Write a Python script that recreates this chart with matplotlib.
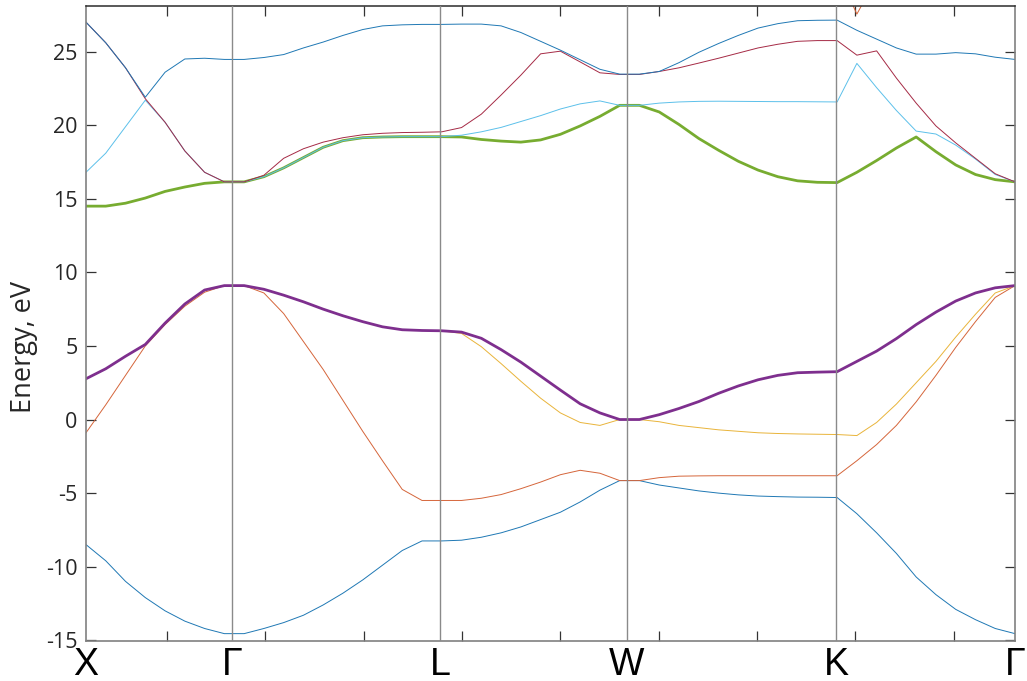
import numpy as np
import matplotlib
matplotlib.use("Agg")
import matplotlib.pyplot as plt

# k-path: uniform sampling along X-Γ-L-W-K-Γ (48 points)
n_k = 48
k = np.linspace(0.0, 9.4, n_k)

sym_labels = ["X", "Γ", "L", "W", "K", "Γ"]
sym_pos = [0.0, 1.48, 3.584, 5.473, 7.59, 9.4]
grid_ticks = [0.82, 1.815, 2.81, 3.805, 4.80, 5.795, 6.79, 7.785, 8.78]
yticks = [-15, -10, -5, 0, 5, 10, 15, 20, 25]

# band energies, eV
band1 = [-8.5, -9.6, -11.0, -12.1, -13.0, -13.7, -14.2, -14.55, -14.55, -14.2,
         -13.8, -13.3, -12.6, -11.8, -10.9, -9.9, -8.9, -8.25, -8.25, -8.2,
         -8.0, -7.7, -7.3, -6.8, -6.3, -5.6, -4.8, -4.15, -4.15, -4.45,
         -4.65, -4.85, -5.0, -5.12, -5.2, -5.24, -5.27, -5.28, -5.3, -6.4,
         -7.7, -9.1, -10.7, -11.9, -12.9, -13.6, -14.2, -14.55]
band2 = [-0.9, 1.0, 3.0, 5.0, 6.45, 7.7, 8.65, 9.1, 9.1, 8.6,
         7.2, 5.3, 3.4, 1.3, -0.8, -2.8, -4.75, -5.5, -5.5, -5.5,
         -5.35, -5.1, -4.7, -4.25, -3.75, -3.45, -3.65, -4.15, -4.15, -3.95,
         -3.85, -3.83, -3.82, -3.82, -3.82, -3.82, -3.82, -3.82, -3.82, -2.8,
         -1.7, -0.4, 1.2, 3.0, 4.9, 6.65, 8.3, 9.1]
band3 = [2.77, 3.45, 4.3, 5.1, 6.55, 7.85, 8.8, 9.1, 9.1, 8.85,
         8.45, 8.0, 7.5, 7.05, 6.65, 6.3, 6.1, 6.05, 6.03, 5.85,
         4.95, 3.8, 2.6, 1.45, 0.45, -0.2, -0.4, 0.0, 0.0, -0.15,
         -0.4, -0.55, -0.7, -0.8, -0.9, -0.95, -0.98, -1.0, -1.02, -1.09,
         -0.2, 1.05, 2.5, 3.95, 5.6, 7.15, 8.6, 9.1]
band4 = [2.77, 3.45, 4.3, 5.1, 6.55, 7.85, 8.8, 9.1, 9.1, 8.85,
         8.45, 8.0, 7.5, 7.05, 6.65, 6.3, 6.1, 6.05, 6.03, 5.94,
         5.52, 4.75, 3.9, 2.95, 2.0, 1.07, 0.45, 0.0, 0.0, 0.33,
         0.75, 1.22, 1.78, 2.28, 2.7, 3.0, 3.18, 3.22, 3.25, 3.95,
         4.65, 5.5, 6.45, 7.3, 8.05, 8.6, 8.95, 9.1]
band5 = [14.5, 14.5, 14.7, 15.05, 15.5, 15.8, 16.05, 16.15, 16.15, 16.5,
         17.1, 17.8, 18.5, 18.95, 19.15, 19.2, 19.22, 19.22, 19.22, 19.2,
         19.03, 18.92, 18.85, 19.0, 19.38, 19.95, 20.6, 21.35, 21.35, 20.9,
         20.05, 19.1, 18.3, 17.55, 16.95, 16.5, 16.22, 16.12, 16.1, 16.8,
         17.6, 18.45, 19.2, 18.2, 17.3, 16.65, 16.3, 16.15]
band6 = [16.8, 18.1, 19.9, 21.7, 20.2, 18.25, 16.8, 16.15, 16.15, 16.5,
         17.1, 17.8, 18.5, 18.95, 19.15, 19.2, 19.22, 19.22, 19.22, 19.32,
         19.55, 19.85, 20.25, 20.65, 21.1, 21.45, 21.65, 21.35, 21.35, 21.5,
         21.58, 21.62, 21.63, 21.62, 21.61, 21.6, 21.6, 21.59, 21.58, 24.2,
         22.55, 21.0, 19.6, 19.4, 18.65, 17.7, 16.65, 16.15]
band7 = [27.0, 25.6, 23.9, 21.8, 20.2, 18.25, 16.8, 16.15, 16.15, 16.6,
         17.75, 18.4, 18.85, 19.15, 19.35, 19.45, 19.5, 19.52, 19.55, 19.84,
         20.75, 22.05, 23.4, 24.85, 25.03, 24.3, 23.56, 23.45, 23.45, 23.65,
         23.9, 24.22, 24.55, 24.9, 25.25, 25.5, 25.7, 25.75, 25.75, 24.76,
         25.05, 23.2, 21.5, 19.95, 18.8, 17.75, 16.7, 16.15]
band8 = [27.0, 25.6, 23.9, 21.9, 23.6, 24.5, 24.55, 24.47, 24.47, 24.6,
         24.8, 25.25, 25.65, 26.1, 26.5, 26.75, 26.82, 26.85, 26.85, 26.87,
         26.87, 26.75, 26.3, 25.7, 25.1, 24.45, 23.8, 23.47, 23.47, 23.65,
         24.25, 24.95, 25.55, 26.1, 26.6, 26.9, 27.1, 27.13, 27.14, 26.45,
         25.85, 25.25, 24.83, 24.83, 24.93, 24.85, 24.62, 24.47]
# next band up only dips into the window next to K
band9_idx = [37, 38, 39, 40, 41]
band9 = [31.5, 30.5, 27.55, 30.0, 31.0]

bands = [band1, band2, band3, band4, band5, band6, band7, band8]
colors = ["#1f78b4", "#d5653a", "#e9b43a", "#7E2F8E", "#77AC30",
          "#5cc0ea", "#a52a45", "#1f78b4"]
widths = [0.7, 0.7, 0.7, 2.0, 2.0, 0.7, 0.7, 0.7]

fig = plt.figure(figsize=(10.27, 6.81), dpi=100)
ax = fig.add_axes([86 / 1027, 40 / 681, 929 / 1027, 635 / 681])

for e, c, w in zip(bands, colors, widths):
    ax.plot(k, e, color=c, lw=w, solid_joinstyle="round")
ax.plot(k[band9_idx], band9, color="#d5653a", lw=0.7)

for p in sym_pos[1:-1]:
    ax.axvline(p, color="#8a8a8a", lw=1.0, zorder=3)

ax.set_xlim(sym_pos[0], sym_pos[-1])
ax.set_ylim(-15.05, 28.1)

ax.set_yticks(yticks)
ax.set_yticklabels([str(v) for v in yticks], fontfamily="Open Sans",
                   fontsize=15.5, color="#262626")
ax.tick_params(axis="y", direction="in", length=7, width=0.9,
               left=True, right=True, pad=6, color="#333333")

ax.set_xticks(sym_pos)
ax.set_xticklabels(sym_labels, fontfamily="Liberation Sans", fontsize=27,
                   color="black")
ax.tick_params(axis="x", which="major", length=0, pad=4)
ax.set_xticks(grid_ticks, minor=True)
ax.tick_params(axis="x", which="minor", direction="in", length=7, width=0.9,
               top=True, bottom=True, color="#333333")

for side in ["left", "right", "bottom"]:
    ax.spines[side].set_color("#808080")
    ax.spines[side].set_linewidth(1.2)
ax.spines["top"].set_color("#2b2b2b")
ax.spines["top"].set_linewidth(1.1)

ax.set_ylabel("Energy, eV", fontfamily="Open Sans", fontsize=19.5,
              color="#262626")
ax.yaxis.set_label_coords(-0.052, 0.463)

fig.savefig("out.png", dpi=100)
